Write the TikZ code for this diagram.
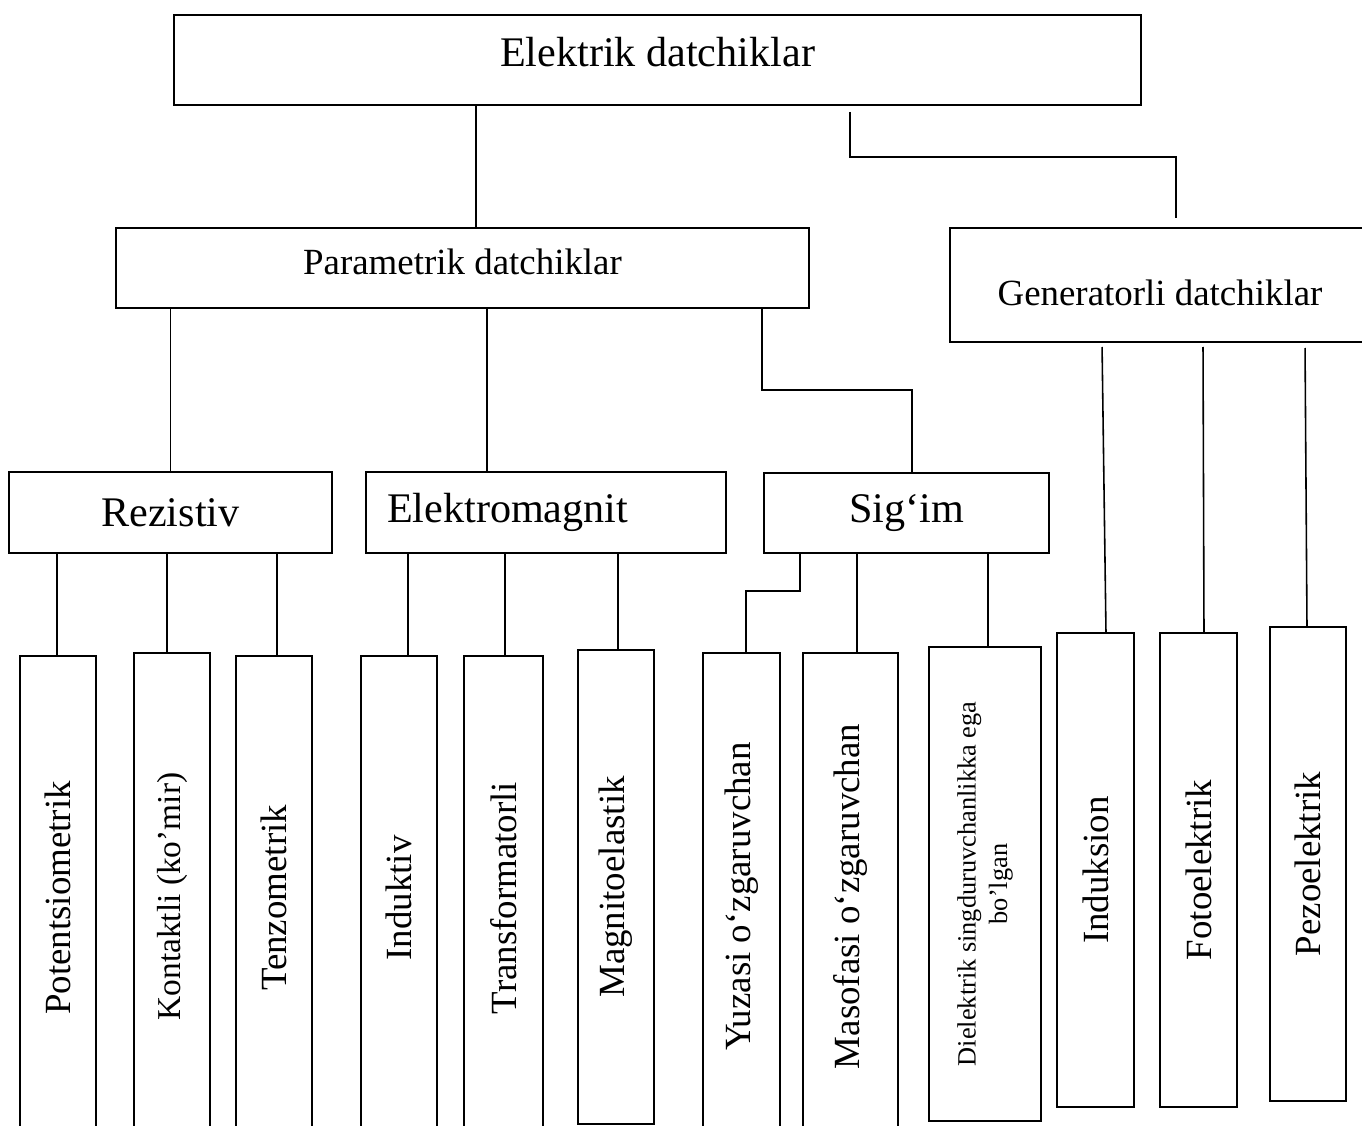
\documentclass[tikz,border=0pt]{standalone}
\usepackage{fontspec}
\setmainfont{Liberation Serif}
\usepackage{tikz}
\usetikzlibrary{positioning}

\begin{document}
\begin{tikzpicture}[
    x=0.2mm, y=-0.2mm,
    line width=0.9pt,
    every node/.style={font=\fontsize{21}{25}\selectfont},
    cell/.style={
        draw,
        rectangle,
        anchor=north west,
        inner sep=0pt,
        outer sep=0pt,
        align=center,
    },
    bigtext/.style={font=\fontsize{24}{28}\selectfont},
    smalltext/.style={font=\fontsize{15}{18}\selectfont},
    leaf/.style={
        cell,
        minimum width=#1,
    },
    link/.style={
        line width=0.9pt,
    },
]
\path[use as bounding box, clip] (0,0) rectangle (1362,1126);

% ===== Yuqori daraja =====
\node[cell, bigtext, minimum width=193.4mm, minimum height=18mm, text depth=9pt] (elektrik) at (174,15) {Elektrik datchiklar};

% ===== Ikkinchi daraja =====
\node[cell, minimum width=138.6mm, minimum height=16mm, text depth=7pt] (param) at (116,228) {Parametrik datchiklar};
\node[cell, minimum width=84mm, minimum height=22.8mm, text height=23pt] (gener) at (950,228) {Generatorli datchiklar};

% ===== Uchinchi daraja =====
\node[cell, bigtext, minimum width=64.6mm, minimum height=16.2mm] (rez) at (9,472) {Rezistiv};
\node[cell, bigtext, minimum height=16.2mm, inner xsep=4.2mm, text width=63.6mm, align=left] (emag) at (366,472) {Elektromagnit};
\node[cell, bigtext, minimum width=57mm, minimum height=16mm] (sigim) at (764,473) {Sig‘im};

% ===== Pastki qator =====
\node[leaf=15.2mm, minimum height=96.8mm] (pot) at (20,656) {\rotatebox{90}{Potentsiometrik}};
\node[leaf=15.2mm, minimum height=97.4mm, font=\fontsize{19}{23}\selectfont] (kont) at (134,653) {\rotatebox{90}{Kontaktli (ko’mir)}};
\node[leaf=15.2mm, minimum height=96.8mm] (tenz) at (236,656) {\rotatebox{90}{Tenzometrik}};
\node[leaf=15.2mm, minimum height=96.8mm] (indv) at (361,656) {\rotatebox{90}{Induktiv}};
\node[leaf=15.8mm, minimum height=96.8mm] (trans) at (464,656) {\rotatebox{90}{Transformatorli}};
\node[leaf=15.2mm, minimum height=94.8mm] (magn) at (578,650) {\rotatebox{90}{Magnitoelastik}};
\node[leaf=15.4mm, minimum height=97.4mm] (yuz) at (703,653) {\rotatebox{90}{Yuzasi o‘zgaruvchan}};
\node[leaf=19mm, minimum height=97.4mm] (mas) at (803,653) {\rotatebox{90}{Masofasi o‘zgaruvchan}};
\node[leaf=22.4mm, minimum height=94.8mm, smalltext] (diel) at (929,647) {\rotatebox{90}{\begin{tabular}{@{}c@{}}Dielektrik singduruvchanlikka ega\\bo’lgan\end{tabular}}};
\node[leaf=15.4mm, minimum height=94.8mm] (indk) at (1057,633) {\rotatebox{90}{Induksion}};
\node[leaf=15.4mm, minimum height=94.8mm] (foto) at (1160,633) {\rotatebox{90}{Fotoelektrik}};
\node[leaf=15.2mm, minimum height=94.8mm] (pezo) at (1270,627) {\rotatebox{90}{Pezoelektrik}};

% ===== Bog'lanishlar =====
\draw[link] (elektrik.south -| 476,0) -- (param.north -| 476,0);
\draw[link, shorten <=1.4mm, shorten >=2mm] (elektrik.south -| 850,0) -- (850,157) -- (1176,157) -- (gener.north -| 1176,0);

\draw[link] (param.south -| rez.north) -- (rez.north);
\draw[link] (param.south -| 487,0) -- (emag.north -| 487,0);
\draw[link] (param.south -| 762,0) -- (762,390) -- (912,390) -- (sigim.north -| 912,0);

\draw[link] (rez.south -| 57,0) -- (pot.north -| 57,0);
\draw[link] (rez.south -| 167,0) -- (kont.north -| 167,0);
\draw[link] (rez.south -| 277,0) -- (tenz.north -| 277,0);

\draw[link] (emag.south -| 408,0) -- (indv.north -| 408,0);
\draw[link] (emag.south -| 505,0) -- (trans.north -| 505,0);
\draw[link] (emag.south -| 618,0) -- (magn.north -| 618,0);

\draw[link] (sigim.south -| 800,0) -- (800,591) -- (746,591) -- (yuz.north -| 746,0);
\draw[link] (sigim.south -| 857,0) -- (mas.north -| 857,0);
\draw[link] (sigim.south -| 988,0) -- (diel.north -| 988,0);

\draw[link, shorten <=1mm] (gener.south -| 1102,0) -- (indk.north -| 1106,0);
\draw[link, shorten <=1mm] (gener.south -| 1203,0) -- (foto.north -| 1204,0);
\draw[link, shorten <=1.2mm] (gener.south -| 1305,0) -- (pezo.north -| 1307,0);

\end{tikzpicture}
\end{document}
